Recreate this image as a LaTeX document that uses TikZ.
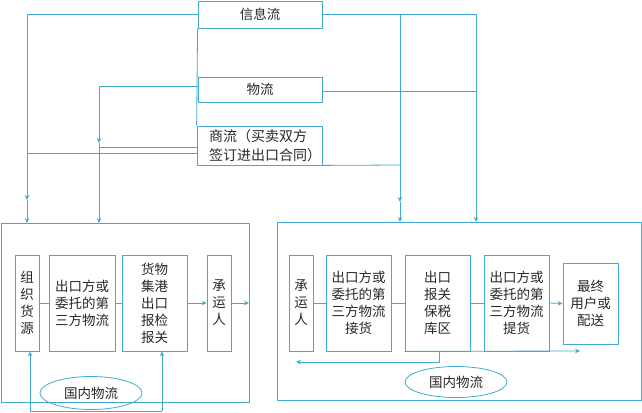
\documentclass[tikz,border=0pt]{standalone}
\usepackage{fontspec}
\newfontfamily\cjk{Noto Sans CJK SC}
\usetikzlibrary{arrows.meta,shapes.geometric}
\definecolor{lc}{RGB}{64,170,208}
\definecolor{tc}{RGB}{40,40,40}
\tikzset{
  box/.style={draw=lc, line width=0.8pt, inner sep=0pt, align=center, text=tc,
    font=\cjk\fontsize{13.5}{17}\selectfont},
  big/.style={draw=lc, line width=0.8pt, inner sep=0pt},
  lbl/.style={inner sep=0pt, align=left, text=tc,
    font=\cjk\fontsize{14}{19}\selectfont},
  oval/.style={draw=lc, line width=0.8pt, ellipse, inner sep=0pt, text=tc,
    font=\cjk\fontsize{13.5}{17}\selectfont},
  ln/.style={draw=lc, line width=0.8pt},
  arr/.style={ln, -{Stealth[length=5pt,width=4.5pt]}},
}
\begin{document}
\begin{tikzpicture}[x=1pt,y=-1pt]
\useasboundingbox (0,0) rectangle (642,412);
% top boxes
\node[box, minimum width=124pt, minimum height=27pt] (info) at (260,14.5) {信息流};
\node[box, minimum width=124pt, minimum height=25pt] (wl) at (260,89.5) {物流};
\node[box, minimum width=125pt, minimum height=39pt] (sl) at (259.5,145.5) {};
\node[lbl, anchor=west] (slt) at (209,145.5) {商流（买卖双方\\签订进出口合同）};
% big boxes
\node[big, minimum width=248pt, minimum height=179pt] (L) at (125,312.5) {};
\node[big, minimum width=364pt, minimum height=178pt] (R) at (459,311) {};
% left inner
\node[box, minimum width=24pt, minimum height=96pt] (a1) at (27,303) {组\\织\\货\\源};
\node[box, minimum width=66pt, minimum height=96pt] (a2) at (82,303) {出口方或\\委托的第\\三方物流};
\node[box, minimum width=65pt, minimum height=96pt] (a3) at (154.5,303) {货物\\集港\\出口\\报检\\报关};
\node[box, minimum width=24pt, minimum height=96pt] (a4) at (219,303) {承\\运\\人};
% right inner
\node[box, minimum width=24pt, minimum height=96pt] (b1) at (301,303) {承\\运\\人};
\node[box, minimum width=65pt, minimum height=96pt] (b2) at (358.5,303) {出口方或\\委托的第\\三方物流\\接货};
\node[box, minimum width=65pt, minimum height=96pt] (b3) at (437.5,303) {出口\\报关\\保税\\库区};
\node[box, minimum width=65pt, minimum height=96pt] (b4) at (516.5,303) {出口方或\\委托的第\\三方物流\\提货};
\node[box, minimum width=55pt, minimum height=81pt] (b5) at (590.5,303.5) {最终\\用户或\\配送};
% ellipses
\node[oval, minimum width=102pt, minimum height=33pt] (e1) at (91,393) {国内物流};
\node[oval, minimum width=102pt, minimum height=31pt] (e2) at (456,382) {国内物流};
% coordinates
\coordinate (p1) at (27,14);
\coordinate (p1m) at (27,200);
\coordinate (p1e) at (27,223);
\coordinate (p2) at (400,14);
\coordinate (p2m) at (400,202);
\coordinate (p2e) at (400,222);
\coordinate (p3) at (476,14);
\coordinate (p3e) at (476,222);
\coordinate (q1) at (99,86);
\coordinate (q1m) at (99,143);
\coordinate (q1e) at (99,223);
\coordinate (q2) at (476,91);
\coordinate (s1) at (99,147);
\coordinate (s2) at (27,153);
\coordinate (s3) at (400,165);
\coordinate (lr) at (249,303);
\coordinate (m1) at (30,411);
\coordinate (m2) at (162,411);
\coordinate (n1) at (439,362);
\coordinate (n2) at (296,362);
\coordinate (n3) at (580,351);
% top connectors
\draw[ln] (info.south west) -- (sl.north west);
\draw[arr] (info.west |- p1) -- (p1) -- (p1m);
\draw[arr] (p1m) -- (p1e);
\draw[ln] (info.east |- p1) -- (p3);
\draw[arr] (p3) -- (p3e);
\draw[arr] (p2) -- (p2m);
\draw[arr] (p2m) -- (p2e);
\draw[arr] (wl.west |- q1) -- (q1) -- (q1m);
\draw[arr] (q1m) -- (q1e);
\draw[ln] (wl.east |- q2) -- (q2);
\draw[ln] (sl.west |- s1) -- (s1);
\draw[ln] (sl.west |- s2) -- (s2);
\draw[ln] (sl.south east) -- (s3);
% left flow
\draw[ln] (a1.east) -- (a2.west);
\draw[ln] (a2.east) -- (a3.west);
\draw[arr] (a3.east) -- (a4.west);
\draw[arr] (a4.east) -- (lr);
\draw[ln] (m1) -- (m2);
\draw[arr] (m1) -- (m1 |- a1.south);
\draw[arr] (m2) -- (m2 |- a3.south);
% right flow
\draw[ln] (b1.east) -- (b2.west);
\draw[ln] (b2.east) -- (b3.west);
\draw[ln] (b3.east) -- (b4.west);
\draw[arr] (b4.east) -- (b5.west);
\draw[arr] (n1 |- b3.south) -- (n1) -- (n2);
\draw[arr] (b3.south west) -- (n3);
\end{tikzpicture}
\end{document}
